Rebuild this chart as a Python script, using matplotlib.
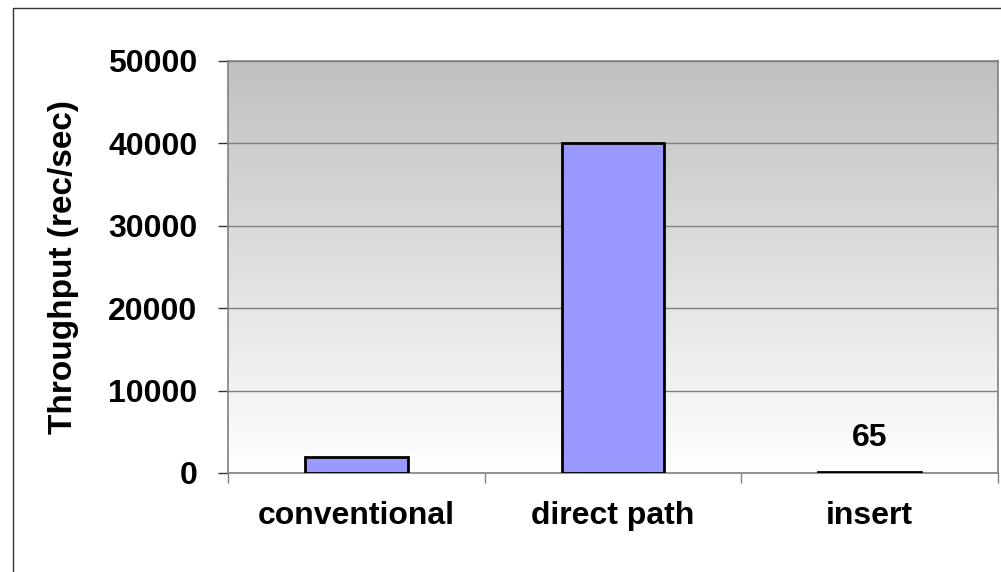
import numpy as np
import matplotlib
matplotlib.use("Agg")
import matplotlib.pyplot as plt
from matplotlib.patches import Rectangle

plt.rcParams["font.family"] = ["Liberation Sans", "DejaVu Sans"]
plt.rcParams["font.weight"] = "bold"

categories = ["conventional", "direct path", "insert"]
throughput = [2000, 40000, 65]
labelled = {"insert": 65}
y_ticks = [0, 10000, 20000, 30000, 40000, 50000]

fig = plt.figure(figsize=(10.01, 5.72), dpi=100)
ax = fig.add_axes([228 / 1001, 99 / 572, 770 / 1001, 412 / 572])

# outer chart border (only the left and top edges fall inside the canvas)
fig.patches.append(Rectangle((12.5 / 1001, -0.05), 1.2, (572 - 7.5) / 572 + 0.05,
                             transform=fig.transFigure, fill=False,
                             edgecolor="#333333", linewidth=1.0, zorder=0))

x = np.arange(len(categories))
ax.set_xlim(-0.5, len(categories) - 0.5)
ax.set_ylim(0, 50000)

# grey-to-white gradient behind the bars
grad = np.linspace(1.0, 0.0, 256).reshape(-1, 1)
ax.imshow(grad, extent=(-0.5, len(categories) - 0.5, 0, 50000), aspect="auto",
          cmap=matplotlib.colors.LinearSegmentedColormap.from_list(
              "bg", ["#ffffff", "#c0c0c0"]),
          origin="upper", zorder=0, interpolation="bilinear")

for t in y_ticks:
    ax.axhline(t, color="#808080", linewidth=1.0, zorder=1)

ax.bar(x, throughput, width=0.4, color="#9999ff", edgecolor="black",
       linewidth=2.0, zorder=3)

for i, (c, v) in enumerate(zip(categories, throughput)):
    if c in labelled:
        ax.annotate(str(labelled[c]), (i, v), xytext=(0, 14),
                    textcoords="offset points", ha="center", va="bottom",
                    fontsize=23, fontweight="bold")

ax.set_yticks(y_ticks)
ax.set_yticklabels([str(t) for t in y_ticks])
ax.set_xticks(x)
ax.set_xticklabels(categories)
ax.set_xticks(np.arange(len(categories) + 1) - 0.5, minor=True)
ax.tick_params(axis="x", which="major", length=0, pad=20, labelsize=23)
ax.tick_params(axis="x", which="minor", length=7, width=1, color="#808080")
ax.tick_params(axis="y", length=7, width=1, color="#333333", pad=15, labelsize=23)

for s in ax.spines.values():
    s.set_color("#808080")
    s.set_linewidth(1.2)

ax.set_ylabel("Throughput (rec/sec)", fontsize=24, fontweight="bold")
ax.yaxis.set_label_coords((79 - 228) / 770, 0.5)

fig.savefig("out.png", dpi=100)
